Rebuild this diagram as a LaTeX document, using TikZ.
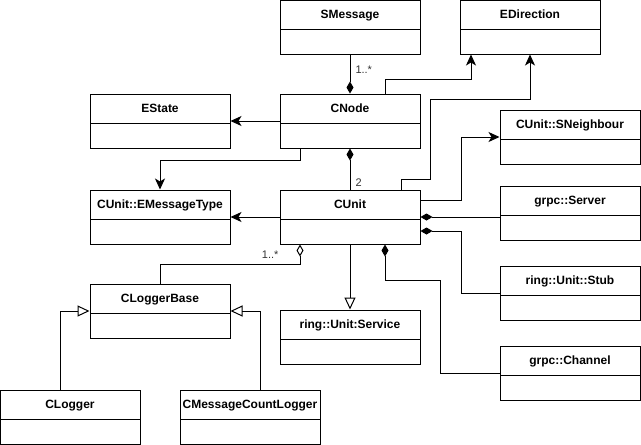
\documentclass[tikz,border=0pt]{standalone}
\usepackage{fontspec}
\setmainfont{Liberation Sans}
\usetikzlibrary{arrows.meta}

\tikzset{
  umlclass/.style={draw, minimum width=140pt, minimum height=54pt, inner sep=0pt,
    path picture={\draw ([yshift=-29pt]path picture bounding box.north west) -- ([yshift=-29pt]path picture bounding box.north east);}},
  classname/.style={anchor=base, yshift=-19pt, font=\bfseries\fontsize{12}{14}\selectfont},
  mult/.style={font=\fontsize{11}{13}\selectfont, text=black!80, inner sep=0pt},
  assoc/.style={-{Stealth[length=11pt, width=10pt, inset=3pt]}},
  compos/.style={{Diamond[length=12pt, width=7pt]}-},
  aggreg/.style={{Diamond[open, length=12pt, width=7pt]}-},
  inherit/.style={-{Triangle[open, length=12pt, width=11pt]}},
}

\begin{document}
\begin{tikzpicture}[x=1pt, y=-1pt, line width=1pt]
\useasboundingbox (0, 0) rectangle (641, 445);

% Classes
\node[umlclass, label={[classname]north:SMessage}] (smessage) at (350, 27) {};
\node[umlclass, label={[classname]north:EDirection}] (edirection) at (530, 27) {};
\node[umlclass, label={[classname]north:EState}] (estate) at (160, 121) {};
\node[umlclass, label={[classname]north:CNode}] (cnode) at (350, 121) {};
\node[umlclass, label={[classname]north:CUnit::SNeighbour}] (sneighbour) at (570, 137) {};
\node[umlclass, label={[classname]north:CUnit::EMessageType}] (emsgtype) at (160, 217) {};
\node[umlclass, label={[classname]north:CUnit}] (cunit) at (350, 217) {};
\node[umlclass, label={[classname]north:grpc::Server}] (server) at (570, 213) {};
\node[umlclass, label={[classname]north:ring::Unit::Stub}] (stub) at (570, 293) {};
\node[umlclass, label={[classname]north:CLoggerBase}] (loggerbase) at (160, 311) {};
\node[umlclass, label={[classname]north:ring::Unit:Service}] (service) at (350, 337) {};
\node[umlclass, label={[classname]north:grpc::Channel}] (channel) at (570, 373) {};
\node[umlclass, label={[classname]north:CLogger}] (clogger) at (70, 417) {};
\node[umlclass, label={[classname]north:CMessageCountLogger}] (countlogger) at (250, 417) {};

% Associations
\draw[assoc] ([xshift=35pt]cnode.north) -- ++(0, -14) -| ([xshift=-59pt]edirection.south);
\draw[assoc] ([xshift=51pt]cunit.north) -- ++(0, -10) -- ++(29, 0) -- ++(0, -80) -| (edirection.south);
\draw[assoc] (cnode.west) -- (estate.east);
\draw[assoc] ([xshift=-50pt]cnode.south) -- ++(0, 12) -| (emsgtype.north);
\draw[assoc] (cunit.west) -- (emsgtype.east);
\draw[assoc] ([yshift=17pt]cunit.east) -- ++(41, 0) |- (sneighbour.west);

% Composition and aggregation
\draw[compos] (cnode.north) -- (smessage.south)
  node[mult, anchor=north west, xshift=5pt, yshift=-11pt] {1..*};
\draw[compos] (cnode.south) -- (cunit.north)
  node[mult, anchor=south west, xshift=5pt, yshift=3pt] {2};
\draw[compos] (cunit.east) -- (cunit.east -| server.west);
\draw[compos] ([yshift=-14pt]cunit.east) -- ++(41, 0) |- (stub.west);
\draw[compos] ([xshift=35pt]cunit.south) -- ++(0, 36) -- ++(55, 0) |- (channel.west);
\draw[aggreg] ([xshift=-50pt]cunit.south) -- ++(0, 20) -| (loggerbase.north);
\node[mult, anchor=north east] (multlog) at ([xshift=-71pt, yshift=-6pt]cunit.south) {1..*};

% Inheritance
\draw[inherit] (cunit.south) -- (service.north);
\draw[inherit] ([xshift=-10pt]clogger.north) |- (loggerbase.west);
\draw[inherit] ([xshift=10pt]countlogger.north) |- (loggerbase.east);
\end{tikzpicture}
\end{document}
